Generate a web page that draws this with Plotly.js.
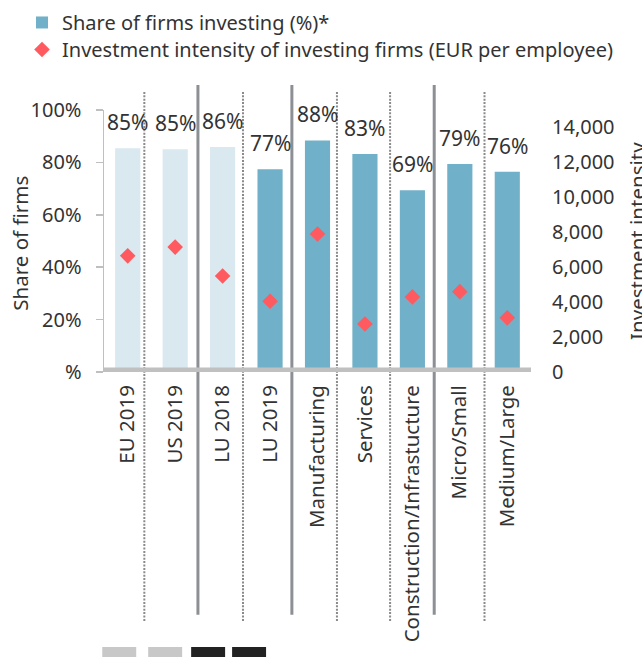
<!DOCTYPE html>
<html><head><meta charset="utf-8">
<script src="https://cdn.plot.ly/plotly-3.0.1.min.js"></script>
<style>html,body{margin:0;padding:0;background:#fff}#chart{width:642px;height:657px}</style>
</head><body><div id="chart"></div>
<script>
// ---- data ----
const categories = ['EU 2019','US 2019','LU 2018','LU 2019','Manufacturing','Services','Construction/Infrastucture','Micro/Small','Medium/Large'];
const shareInvesting = [85.4, 85.0, 85.9, 77.4, 88.4, 83.2, 69.4, 79.4, 76.4];
const intensityEUR = [6650, 7150, 5500, 4050, 7900, 2750, 4300, 4600, 3100];
const shareTickVals = [0, 20, 40, 60, 80, 100];
const shareTickText = ['%', '20%', '40%', '60%', '80%', '100%'];
const intensityTickVals = [0, 2000, 4000, 6000, 8000, 10000, 12000, 14000];
const comparisonCount = 3; // EU 2019, US 2019, LU 2018 shown in light colour

// ---- styling ----
const FONT = 'Noto Sans, Open Sans, sans-serif';
const TXT = '#333333';
const LIGHT = '#dae8f0';
const DARK = '#70b0c8';
const RED = '#ff5a5f';

const traces = [
  {type:'bar', x:categories.slice(0,comparisonCount), y:shareInvesting.slice(0,comparisonCount),
   marker:{color:LIGHT}, width:0.53, showlegend:false, hoverinfo:'skip'},
  {type:'bar', x:categories.slice(comparisonCount), y:shareInvesting.slice(comparisonCount),
   marker:{color:DARK}, width:0.53, name:'Share of firms investing (%)*', legend:'legend'},
  {type:'scatter', mode:'markers', x:categories, y:intensityEUR, yaxis:'y2',
   marker:{symbol:'diamond', size:12, color:RED}, legend:'legend2',
   name:'Investment intensity of investing firms (EUR per employee)'}
];

const annotations = categories.map((c,i)=>({
  x:c, y:shareInvesting[i], xref:'x', yref:'y', text:Math.round(shareInvesting[i])+'%',
  showarrow:false, yanchor:'bottom', yshift:10, font:{family:FONT, size:21, color:TXT}
}));
annotations.push({xref:'paper', yref:'paper', x:-0.1965, y:0.49, text:'Share of firms', textangle:-90,
  showarrow:false, xanchor:'center', yanchor:'middle', font:{family:FONT, size:20.5, color:TXT}});
annotations.push({xref:'paper', yref:'paper', x:1.248, y:0.5, text:'Investment intensity', textangle:-90,
  showarrow:false, xanchor:'center', yanchor:'middle', font:{family:FONT, size:20.5, color:TXT}});

const shapes = [];
const solidSep = [1.48, 3.46, 6.46];
const dottedSep = [0.35, 2.43, 4.41, 5.53, 7.52];
solidSep.forEach(s=>shapes.push({type:'line', xref:'x', yref:'paper', x0:s, x1:s, y0:1.095, y1:-0.927,
  line:{color:'#8c8f93', width:3}, layer:'above'}));
dottedSep.forEach(s=>shapes.push({type:'line', xref:'x', yref:'paper', x0:s, x1:s, y0:1.069, y1:-0.954,
  line:{color:'#8a8a8a', width:2, dash:'2px,1.4px'}, layer:'above'}));
shapes.push({type:'line', xref:'paper', yref:'y', x0:0, x1:1, y0:0, y1:0, line:{color:'#c0c0c0', width:9}, layer:'above'});
// cut-off blocks at the bottom edge
[[102,136,'#c8c8c8'],[148,182,'#c8c8c8'],[191,225,'#222222'],[232,266,'#222222']].forEach(b=>{
  shapes.push({type:'rect', xref:'paper', yref:'paper', x0:(b[0]-103.75)/427.5, x1:(b[1]-103.75)/427.5,
    y0:(372-647)/262, y1:(372-662)/262, line:{width:0}, fillcolor:b[2], layer:'above'});
});

const legendBase = {xanchor:'left', yanchor:'top', font:{family:FONT, size:20, color:TXT},
  bgcolor:'rgba(0,0,0,0)', tracegroupgap:0};

const layout = {
  width:642, height:657,
  margin:{l:104, r:110.75, t:110, b:285, autoexpand:false},
  paper_bgcolor:'#fff', plot_bgcolor:'#fff',
  font:{family:FONT, color:TXT},
  barmode:'overlay',
  showlegend:true,
  legend:Object.assign({}, legendBase, {x:-0.192, y:1.4085}),
  legend2:Object.assign({}, legendBase, {x:-0.192, y:1.3055}),
  xaxis:{type:'category', range:[-0.5, 8.5], tickangle:-90, ticks:'', showline:false, showgrid:false,
    zeroline:false, tickfont:{family:FONT, size:20.5, color:TXT}, ticklabelstandoff:8},
  yaxis:{range:[0,100], tickvals:shareTickVals, ticktext:shareTickText, ticks:'outside', ticklen:7,
    tickwidth:1.5, tickcolor:'#bfbfbf', showline:true, linecolor:'#bfbfbf', linewidth:1.5,
    showgrid:false, zeroline:false, tickfont:{family:FONT, size:20, color:TXT}, ticklabelstandoff:10},
  yaxis2:{overlaying:'y', side:'right', range:[0,15000], tickvals:intensityTickVals, tickformat:',d',
    showgrid:false, zeroline:false, showline:false, ticks:'', tickfont:{family:FONT, size:20, color:TXT},
    ticklabelstandoff:20},
  annotations:annotations,
  shapes:shapes
};

Plotly.newPlot('chart', traces, layout, {displayModeBar:false, staticPlot:true});
</script></body></html>
